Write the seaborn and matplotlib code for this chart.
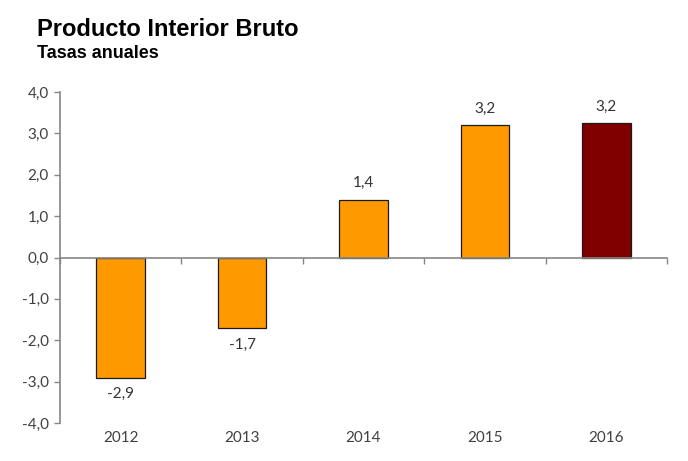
import matplotlib
matplotlib.use("Agg")
import matplotlib.pyplot as plt
import seaborn as sns
import pandas as pd

years = ["2012", "2013", "2014", "2015", "2016"]
values = [-2.9, -1.7, 1.4, 3.2, 3.24]
bar_colors = ["#FF9900", "#FF9900", "#FF9900", "#FF9900", "#800000"]
value_labels = ["-2,9", "-1,7", "1,4", "3,2", "3,2"]
yticks = [-4, -3, -2, -1, 0, 1, 2, 3, 4]

sns.set_theme(style="white")
plt.rcParams["font.family"] = ["Lato", "DejaVu Sans"]

df = pd.DataFrame({"year": years, "value": values})

fig = plt.figure(figsize=(6.88, 4.61), dpi=100)
ax = fig.add_axes([0.0872, 0.0824, 0.8823, 0.718])

sns.barplot(data=df, x="year", y="value", hue="year", palette=bar_colors,
            width=0.4, edgecolor="#1a1a1a", linewidth=0.9, legend=False, ax=ax,
            saturation=1)

ax.set_xlim(-0.5, 4.5)
ax.set_ylim(-4, 4)
ax.set_yticks(yticks)
ax.set_yticklabels([f"{v:.1f}".replace(".", ",") for v in yticks])
ax.tick_params(axis="y", direction="out", length=4, width=1, color="#868686",
               labelsize=11, labelcolor="#404040", pad=4, left=True)

for s in ["top", "right"]:
    ax.spines[s].set_visible(False)
ax.spines["left"].set_color("#868686")
ax.spines["left"].set_linewidth(1.2)
ax.spines["bottom"].set_position(("data", 0))
ax.spines["bottom"].set_color("#868686")
ax.spines["bottom"].set_linewidth(1.2)

ax.set_xticks([-0.5, 0.5, 1.5, 2.5, 3.5, 4.5])
ax.set_xticklabels([""] * 6)
ax.tick_params(axis="x", direction="out", length=4, width=1, color="#868686", bottom=True)
ax.set_xlabel("")
ax.set_ylabel("")

sec = ax.secondary_xaxis("bottom")
sec.set_xticks(range(len(years)))
sec.set_xticklabels(years)
sec.spines["bottom"].set_visible(False)
sec.tick_params(length=0, labelsize=11, labelcolor="#404040", pad=6)

for i, cont in enumerate(ax.containers):
    ax.bar_label(cont, labels=[value_labels[i]], padding=7, fontsize=11, color="#333333")

fig.text(0.054, 0.922, "Producto Interior Bruto", fontsize=17, fontweight="bold",
         color="#000000", va="baseline", family=["Liberation Sans", "DejaVu Sans"])
fig.text(0.054, 0.874, "Tasas anuales", fontsize=13, fontweight="bold",
         color="#000000", va="baseline", family=["Liberation Sans", "DejaVu Sans"])

fig.savefig("out.png", dpi=100, facecolor="white")
